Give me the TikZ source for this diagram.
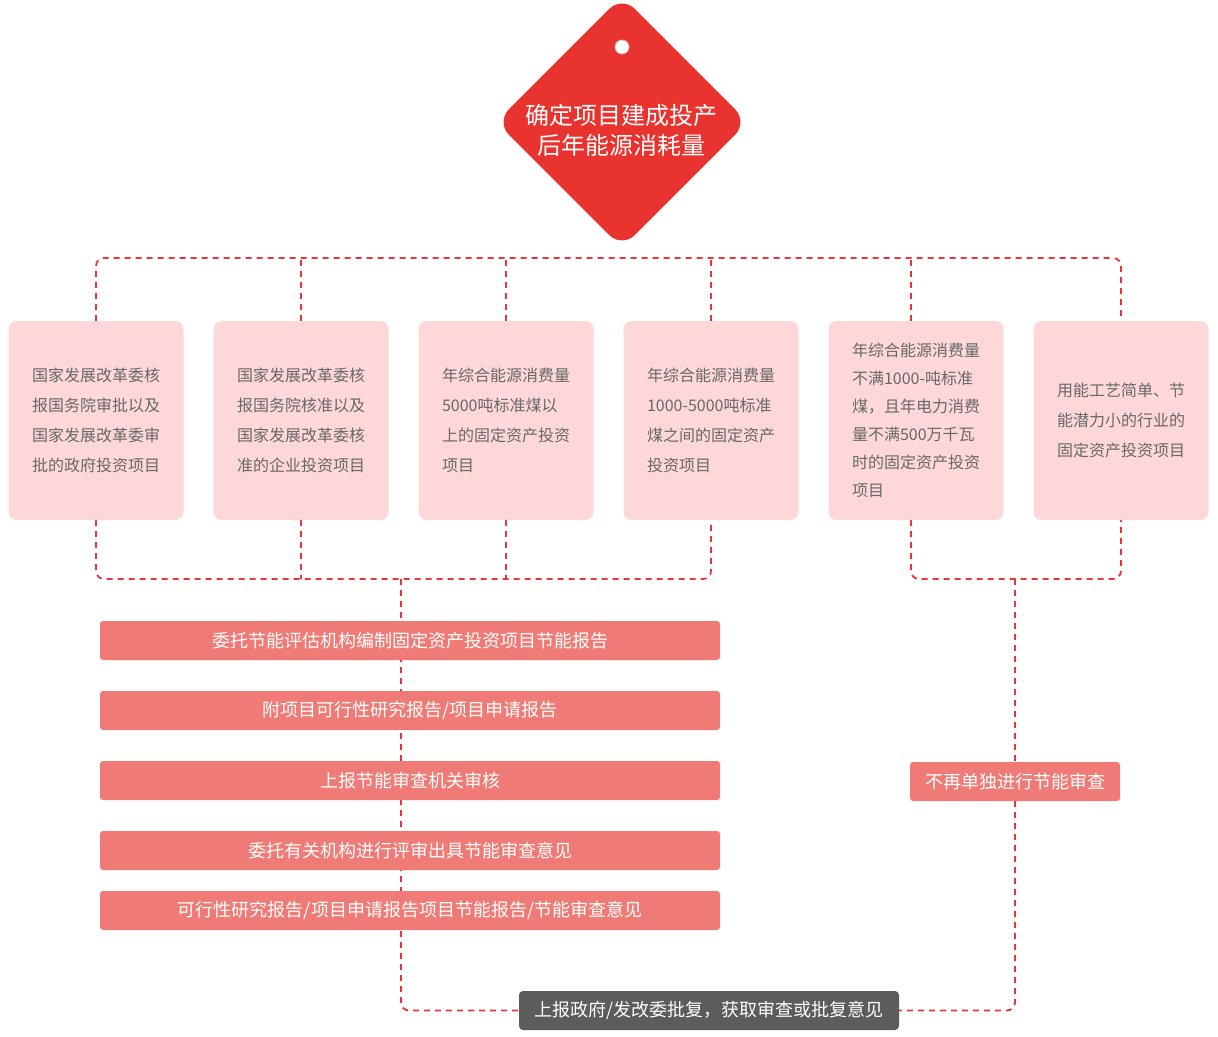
\documentclass[tikz,border=0pt]{standalone}
\usepackage{fontspec}
\setmainfont{Noto Sans CJK SC}
\usepackage{xcolor}
\usetikzlibrary{positioning, calc}
\definecolor{tagred}{HTML}{E8332F}
\definecolor{itempink}{HTML}{FED8D8}
\definecolor{itemtext}{HTML}{686868}
\definecolor{barred}{HTML}{F07B76}
\definecolor{linered}{HTML}{E8343A}
\definecolor{darkgray}{HTML}{5C5C5B}
\pgfdeclarelayer{back}
\pgfsetlayers{back,main}

\tikzset{
  item/.style={fill=itempink, rounded corners=8pt, minimum width=175pt,
    minimum height=199pt, text width=128pt, align=left, text=itemtext,
    font=\fontsize{16}{30}\selectfont},
  bar/.style={fill=barred, rounded corners=3pt, minimum width=620pt,
    minimum height=39pt, text=white, font=\fontsize{18}{22}\selectfont},
  link/.style={draw=linered, line width=1.8pt, dash pattern=on 6pt off 5pt},
}

\begin{document}
\begin{tikzpicture}[x=1pt, y=-1pt]
  \useasboundingbox (0,0) rectangle (1218,1036);

  \node[fill=tagred, rounded corners=18pt, minimum size=178pt, rotate=45] (tag) at (622,122) {};
  \node[circle, fill=white, draw=gray!50, line width=0.8pt, minimum size=14pt, inner sep=0pt] (hole) at (622,47) {};
  \node[text=white, align=center, font=\fontsize{24}{30}\selectfont] (title) at (621,130)
    {确定项目建成投产\\后年能源消耗量};

  \node[item] (b1) at (96,420.5) {国家发展改革委核\\报国务院审批以及\\国家发展改革委审\\批的政府投资项目};
  \node[item] (b2) at (301,420.5) {国家发展改革委核\\报国务院核准以及\\国家发展改革委核\\准的企业投资项目};
  \node[item] (b3) at (506,420.5) {年综合能源消费量\\5000吨标准煤以\\上的固定资产投资\\项目};
  \node[item] (b4) at (711,420.5) {年综合能源消费量\\1000-5000吨标准\\煤之间的固定资产\\投资项目};
  \node[item, font=\fontsize{16}{28}\selectfont] (b5) at (916,420.5)
    {年综合能源消费量\\不满1000-吨标准\\煤，且年电力消费\\量不满500万千瓦\\时的固定资产投资\\项目};
  \node[item] (b6) at (1121,420.5) {用能工艺简单、节\\能潜力小的行业的\\固定资产投资项目};

  \node[bar] (s1) at (410,640.5) {委托节能评估机构编制固定资产投资项目节能报告};
  \node[bar] (s2) at (410,710.5) {附项目可行性研究报告/项目申请报告};
  \node[bar] (s3) at (410,780.5) {上报节能审查机关审核};
  \node[bar] (s4) at (410,850.5) {委托有关机构进行评审出具节能审查意见};
  \node[bar] (s5) at (410,910.5) {可行性研究报告/项目申请报告项目节能报告/节能审查意见};
  \node[bar, minimum width=210pt] (skip) at (1015,781.5) {不再单独进行节能审查};
  \node[fill=darkgray, rounded corners=4pt, minimum width=380pt, minimum height=39pt,
    text=white, font=\fontsize{18}{22}\selectfont] (final) at (709,1010.5)
    {上报政府/发改委批复，获取审查或批复意见};

  \coordinate (topbus) at (0,258);
  \coordinate (lowbus) at (0,579);
  \coordinate (drop) at (401,579);

  \begin{pgfonlayer}{back}
    \draw[link, rounded corners=8pt] (b1.north) |- (topbus -| b6.north) -- (b6.north);
    \foreach \i in {2,...,4}
      \draw[link] (b\i.north) -- (b\i.north |- topbus);
    \draw[link] ([xshift=-5pt]b5.north) -- ([xshift=-5pt]b5.north |- topbus);
    \draw[link, rounded corners=8pt] (b1.south) |- (lowbus -| b4.south) -- (b4.south);
    \foreach \i in {2,3}
      \draw[link] (b\i.south) -- (b\i.south |- lowbus);
    \draw[link, rounded corners=8pt] (drop) |- (final.west);
    \draw[link, rounded corners=8pt] ([xshift=-5pt]b5.south) |- (lowbus -| b6.south) -- (b6.south);
    \draw[link] (skip.north |- lowbus) -- (skip.north);
    \draw[link, rounded corners=8pt] (skip.south) |- (final.east);
  \end{pgfonlayer}
\end{tikzpicture}
\end{document}
